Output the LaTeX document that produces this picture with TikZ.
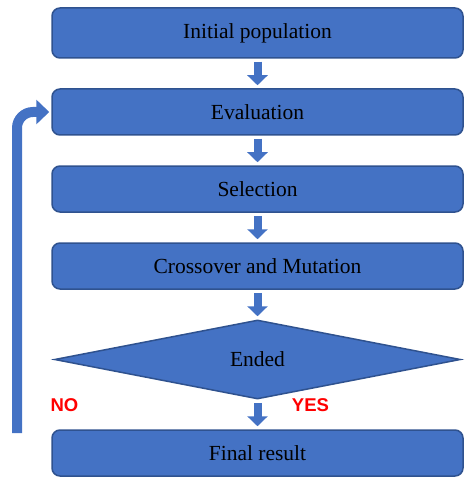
\documentclass[tikz,border=0pt]{standalone}
\usepackage{fontspec}
\setmainfont{Liberation Serif}
\newfontfamily\labelfont{Liberation Sans}
\usetikzlibrary{arrows.meta,positioning,shapes.geometric}
\definecolor{gablue}{HTML}{4472C4}
\definecolor{gaedge}{HTML}{2F528F}
\definecolor{gared}{HTML}{FF0000}

\begin{document}
\begin{tikzpicture}[
  x=1pt, y=1pt,
  font=\fontsize{21.5}{24}\selectfont,
  node distance=29.5pt,
  stage/.style={rounded corners=8pt, draw=gaedge, line width=1.5pt, fill=gablue, minimum width=411pt, minimum height=46pt, inner sep=0pt},
  decision/.style={diamond, draw=gaedge, line width=1.5pt, fill=gablue, minimum width=406pt, minimum height=79pt, aspect=5, inner sep=0pt},
  flow/.style={draw=gablue, line width=8pt, -{Triangle[width=20pt,length=10pt]}, shorten <=3pt, shorten >=3pt},
  feedback/.style={draw=gablue, line width=10pt, rounded corners=16pt, -{Triangle[width=24pt,length=13pt]}, shorten >=2pt},
  answer/.style={text=gared, font=\labelfont\bfseries\fontsize{18.5}{20}\selectfont}
]
\useasboundingbox (0,0) rectangle (474,-481);
\node[stage, minimum height=50pt] (init) at (257.5,-33) {Initial population};
\node[stage, below=of init] (eval) {Evaluation};
\node[stage, below=of eval] (sel) {Selection};
\node[stage, below=of sel] (cross) {Crossover and Mutation};
\node[decision, below=of cross] (ended) {Ended};
\node[stage, below=of ended] (final) {Final result};
\draw[flow] (init) -- (eval);
\draw[flow] (eval) -- (sel);
\draw[flow] (sel) -- (cross);
\draw[flow] (cross) -- (ended);
\draw[flow] (ended) -- (final);
\node[answer] (no) at (64.5,-405) {NO};
\node[answer] (yes) at (310.5,-405) {YES};
\coordinate (retstart) at (17,-433);
\draw[feedback] (retstart) |- (eval.west);
\end{tikzpicture}
\end{document}
